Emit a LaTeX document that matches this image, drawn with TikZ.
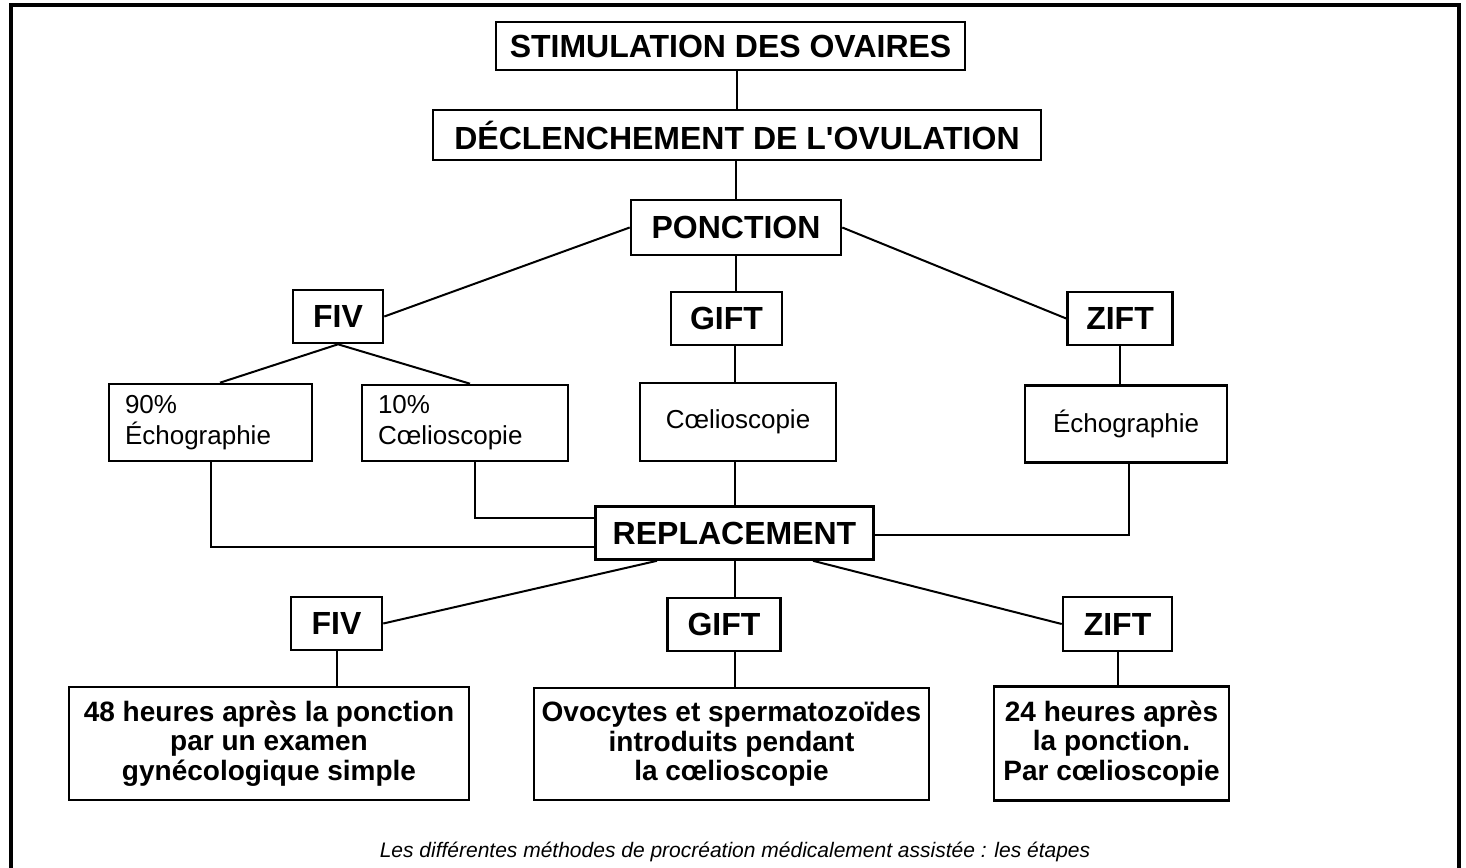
\documentclass[tikz,border=0pt]{standalone}
\usepackage{fontspec}
\setmainfont{Liberation Sans}[Ligatures=TeXOff]
\begin{document}
\begin{tikzpicture}[x=0.5pt,y=-0.5pt,
  box/.style={draw,line width=1.3pt,inner sep=0pt,align=center},
  title/.style={box,font=\bfseries\fontsize{16}{19}\selectfont},
  mid/.style={box,font=\fontsize{13}{15.5}\selectfont},
  low/.style={box,font=\bfseries\fontsize{14}{14.8}\selectfont},
  link/.style={line width=1pt}]
\useasboundingbox (0,0) rectangle (1466,867);
% frame
\draw[line width=1.6pt] (11,880) -- (11,5) -- (1459,5) -- (1459,880);
% nodes
\node[title,minimum width=234.5pt,minimum height=24pt] (stim) at (730.5,46) {STIMULATION DES OVAIRES};
\node[title,minimum width=304pt,minimum height=25pt] (decl) at (737,135) {DÉCLENCHEMENT DE L'OVULATION};
\node[title,minimum width=105pt,minimum height=27.5pt] (ponc) at (736,227.5) {PONCTION};
\node[title,minimum width=45pt,minimum height=26.5pt] (fiva) at (338,316.5) {FIV};
\node[title,minimum width=55.5pt,minimum height=26.5pt] (gifta) at (726.5,318.5) {GIFT};
\node[title,minimum width=52.5pt,minimum height=26.5pt] (zifta) at (1120,318.5) {ZIFT};
\node[mid,align=left,text width=85.5pt,minimum height=38.5pt,inner xsep=8pt] (eA) at (210.5,422.5) {90\%\\Échographie};
\node[mid,align=left,text width=87pt,minimum height=38pt,inner xsep=8pt] (cB) at (465,423) {10\%\\Cœlioscopie};
\node[mid,minimum width=98pt,minimum height=39pt] (coel) at (738,422) {Cœlioscopie};
\node[mid,minimum width=101pt,minimum height=38.5pt] (echo) at (1126,424) {Échographie};
\node[title,minimum width=139pt,minimum height=26.5pt] (repl) at (734.5,533) {REPLACEMENT};
\node[title,minimum width=45.5pt,minimum height=26.5pt] (fivb) at (336.5,623.5) {FIV};
\node[title,minimum width=56.5pt,minimum height=26.5pt] (giftb) at (724,624.5) {GIFT};
\node[title,minimum width=54.5pt,minimum height=27pt] (ziftb) at (1117.5,624) {ZIFT};
\node[low,minimum width=200pt,minimum height=56.5pt] (hA) at (269,743.5) {48 heures après la ponction\\par un examen\\gynécologique simple};
\node[low,minimum width=197.5pt,minimum height=56pt] (ovo) at (731.5,744) {Ovocytes et spermatozoïdes\\introduits pendant\\la cœlioscopie};
\node[low,minimum width=117.5pt,minimum height=57pt] (hB) at (1111.5,743.5) {24 heures après\\la ponction.\\Par cœlioscopie};
\node[font=\itshape\fontsize{10.5}{12}\selectfont,inner sep=0pt] (cap) at (735,852) {Les différentes méthodes de procréation médicalement assistée : les étapes};
% connectors
\draw[link] (decl.north) -- (decl.north |- stim.south);
\draw[link] (ponc.north) -- (ponc.north |- decl.south);
\draw[link] (ponc.west) -- (fiva.east);
\draw[link] (ponc.east) -- (zifta.west);
\draw[link] (ponc.south) -- (ponc.south |- gifta.north);
\draw[link] ([xshift=4.75pt]eA.north) -- (fiva.south) -- ([xshift=2.5pt]cB.north);
\draw[link] (coel.north) ++(-1.5pt,0) coordinate (cn) -- (cn |- gifta.south);
\draw[link] (zifta.south) -- (zifta.south |- echo.north);
\draw[link] (eA.south) |- ([yshift=-7pt]repl.west);
\draw[link] ([xshift=5pt]cB.south) |- ([yshift=7.5pt]repl.west);
\draw[link] (repl.north) -- (repl.north |- coel.south);
\draw[link] ([xshift=1.5pt]echo.south) |- ([yshift=-1pt]repl.east);
\draw[link] ([xshift=-38.75pt]repl.south) -- (fivb.east);
\draw[link] (repl.south) -- (repl.south |- giftb.north);
\draw[link] ([xshift=39.25pt]repl.south) -- (ziftb.west);
\draw[link] (fivb.south) -- (fivb.south |- hA.north);
\draw[link] (repl.south |- giftb.south) -- (repl.south |- ovo.north);
\draw[link] (ziftb.south) -- (ziftb.south |- hB.north);
\end{tikzpicture}
\end{document}
